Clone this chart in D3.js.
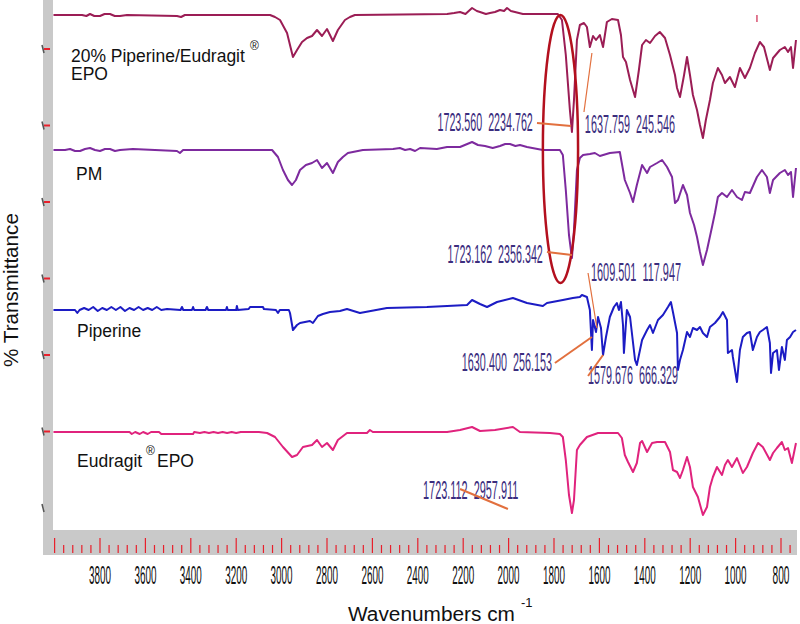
<!DOCTYPE html>
<html><head><meta charset="utf-8">
<script src="https://cdn.jsdelivr.net/npm/d3@7"></script>
<style>html,body{margin:0;padding:0;background:#fff;} svg{display:block;}</style>
</head><body><svg id="c" width="800" height="624"></svg>
<script>
// ---------- DATA ----------
const seriesNames = ["20% Piperine/Eudragit", "PM", "Piperine", "Eudragit"];
const seriesColors = ["#9b1d55", "#7d2a9e", "#1c1cc4", "#e0237d"];
// stacked offset of each trace (value of its flat baseline on the % T axis)
const baselineOffsets = [493, 358, 198, 76];

// [wavenumber cm-1, relative %T] (100 = flat baseline)
const sample20 = [[4005,100],[3879,100],[3860,99],[3844,101],[3825,99],[3800,99],[3780,101],[3756,101],[3735,99],[3712,99],[3681,100],[3461,99],[3443,98],[3426,100],[3051,100],[3029,98],[3007,95],[2976,82],[2950,58],[2932,65],[2910,73],[2888,77],[2866,79],[2844,85],[2822,79],[2800,86],[2774,74],[2752,85],[2721,95],[2699,98],[2677,100],[2271,101],[2240,102],[2214,103],[2190,101],[2161,107],[2140,104],[2126,103],[2100,101],[2082,102],[2060,103],[2038,105],[2020,104],[2007,107],[1990,104],[1972,103],[1937,101],[1783,101],[1765,95],[1748,60],[1730,5],[1721,-17],[1712,15],[1699,75],[1686,90],[1668,92],[1655,88],[1642,68],[1628,79],[1615,75],[1598,80],[1584,68],[1567,93],[1545,96],[1518,95],[1505,80],[1496,58],[1483,53],[1465,35],[1443,18],[1426,45],[1412,70],[1395,75],[1377,72],[1355,79],[1334,83],[1311,77],[1289,60],[1267,40],[1258,27],[1245,18],[1227,40],[1214,58],[1201,40],[1188,20],[1170,5],[1157,-10],[1144,-23],[1131,-5],[1113,15],[1100,32],[1078,47],[1060,40],[1047,32],[1025,38],[1003,28],[981,47],[959,37],[937,47],[915,62],[893,73],[875,68],[849,45],[835,57],[805,65],[783,68],[769,63],[756,68],[747,47],[734,75]];

const pm = [[4005,100],[3954,100],[3932,101],[3910,99],[3888,99],[3866,101],[3844,102],[3822,100],[3800,99],[3778,101],[3756,101],[3734,99],[3712,100],[3655,101],[3461,99],[3448,97],[3434,100],[3042,100],[3016,93],[2994,80],[2972,70],[2954,65],[2937,70],[2919,80],[2893,85],[2866,87],[2844,90],[2822,82],[2800,87],[2774,77],[2752,88],[2730,93],[2708,97],[2642,100],[2509,101],[2479,102],[2456,100],[2434,101],[2412,99],[2390,102],[2316,101],[2271,103],[2214,103],[2161,108],[2135,105],[2104,104],[2070,102],[2038,104],[2015,106],[1994,106],[1970,104],[1950,105],[1919,103],[1849,100],[1774,100],[1761,95],[1748,60],[1734,15],[1721,-8],[1712,20],[1699,80],[1686,92],[1672,95],[1642,96],[1620,97],[1598,94],[1554,97],[1510,98],[1488,70],[1465,57],[1452,48],[1435,65],[1412,85],[1390,77],[1377,83],[1346,87],[1324,90],[1302,83],[1280,73],[1267,47],[1254,50],[1232,65],[1214,55],[1201,37],[1183,25],[1170,13],[1157,-2],[1144,-15],[1126,0],[1104,23],[1091,37],[1078,53],[1060,57],[1038,53],[1016,60],[994,53],[972,50],[959,58],[937,57],[906,73],[884,80],[862,73],[849,57],[835,70],[805,77],[783,80],[769,75],[756,78],[747,53],[734,82]];

const piperine = [[4005,100],[3910,100],[3900,97],[3890,100],[3870,102],[3850,100],[3830,103],[3810,99],[3790,102],[3770,100],[3750,103],[3730,100],[3710,103],[3690,99],[3670,102],[3650,100],[3630,103],[3610,100],[3590,102],[3570,100],[3550,103],[3530,100],[3505,101],[3445,100],[3439,103],[3433,100],[3395,100],[3390,103],[3385,100],[3335,100],[3329,103],[3323,100],[3245,100],[3241,103],[3237,100],[3200,100],[3197,104],[3193,100],[3145,101],[3139,103],[3082,103],[3078,101],[3025,100],[3016,97],[3008,100],[2968,100],[2963,97],[2950,80],[2932,85],[2919,87],[2875,89],[2862,87],[2840,94],[2818,96],[2787,98],[2743,99],[2712,101],[2655,97],[2536,102],[2360,103],[2271,104],[2183,105],[2161,110],[2126,106],[2095,103],[2051,108],[1981,112],[1919,107],[1849,104],[1831,107],[1761,110],[1717,112],[1686,113],[1677,115],[1655,113],[1642,100],[1633,60],[1628,90],[1615,78],[1606,93],[1593,82],[1584,55],[1571,73],[1554,93],[1536,103],[1523,107],[1514,100],[1505,108],[1496,85],[1492,57],[1479,100],[1465,93],[1443,50],[1435,45],[1412,70],[1390,80],[1377,85],[1364,77],[1342,90],[1320,95],[1298,103],[1285,108],[1276,98],[1258,77],[1254,40],[1245,50],[1232,60],[1214,78],[1201,73],[1188,82],[1170,80],[1157,83],[1144,77],[1126,73],[1113,83],[1091,87],[1069,93],[1056,98],[1038,90],[1034,57],[1016,60],[1012,53],[994,28],[981,60],[968,73],[950,77],[937,78],[924,60],[906,73],[893,78],[880,80],[862,83],[849,67],[844,37],[835,57],[818,60],[809,40],[796,63],[783,50],[774,70],[760,73],[747,78],[734,80]];

const eudragit = [[4005,100],[3670,100],[3660,98],[3645,100],[3625,98],[3610,100],[3590,98],[3575,100],[3540,100],[3530,98],[3478,98],[3390,98],[3385,100],[3360,99],[3340,100],[3320,99],[3300,100],[3280,99],[3260,100],[3240,99],[3220,100],[3200,99],[3180,100],[3100,100],[3064,99],[3029,95],[2994,85],[2954,75],[2932,77],[2906,85],[2866,87],[2844,92],[2822,85],[2800,89],[2774,82],[2752,92],[2712,99],[2624,99],[2611,102],[2598,100],[2271,100],[2214,102],[2161,105],[2126,101],[2060,102],[1981,105],[1950,100],[1818,99],[1774,98],[1761,95],[1748,72],[1734,37],[1721,19],[1712,32],[1699,82],[1686,87],[1655,95],[1606,99],[1518,99],[1501,94],[1488,77],[1474,70],[1452,60],[1435,69],[1421,89],[1412,91],[1390,80],[1368,89],[1346,90],[1311,90],[1289,80],[1276,62],[1258,60],[1245,54],[1232,62],[1214,75],[1201,65],[1188,45],[1166,35],[1144,17],[1126,25],[1113,45],[1100,55],[1082,65],[1060,57],[1047,67],[1034,72],[1016,65],[994,74],[968,59],[950,65],[924,79],[901,89],[880,85],[849,72],[835,79],[818,84],[796,90],[783,82],[769,84],[752,69],[734,89]];

const xTickLabels = [3800,3600,3400,3200,3000,2800,2600,2400,2200,2000,1800,1600,1400,1200,1000,800];

// peak annotations: label baseline position, leader line start/end (wavenumber, stacked %T)
const annotations = [
  {text:"1723.560  2234.762", tx:1893, ty:377, anchor:"end",   from:[1875,385], to:[1725,382], w:2},
  {text:"1637.759  245.546",  tx:1664, ty:375, anchor:"start", from:[1668,396], to:[1633,455], w:1.2},
  {text:"1723.162  2356.342", tx:1849, ty:245, anchor:"end",   from:[1831,256], to:[1721,253], w:2},
  {text:"1609.501  117.947",  tx:1637, ty:227, anchor:"start", from:[1650,235], to:[1611,180], w:1.2},
  {text:"1630.400  256.153",  tx:1809, ty:137, anchor:"end",   from:[1796,145], to:[1633,171], w:2},
  {text:"1579.676  666.329",  tx:1650, ty:124, anchor:"start", from:[1650,132], to:[1584,153], w:2},
  {text:"1723.112  2957.911", tx:2377, ty:9,   anchor:"start", from:[2214,19],  to:[2003,-1],  w:2}
];
// highlighted carbonyl region (ellipse bounds)
const highlight = {left:1849, right:1694, top:493, bottom:225};

// ---------- CHART ----------
const svg = d3.select("#c");
const x = d3.scaleLinear().domain([3800, 800]).range([100, 781]);
const y = d3.scaleLinear().domain([0, 459]).range([508, 49]);
const plotL = 53, plotR = 797, bandTop = 530, bandBot = 555;
const lf = "Liberation Sans, Arial, sans-serif";

// condensed text: natural glyph height, squeezed horizontally to a target width
function condensed(px, py, txt, fs, width, anchor, color) {
  const t = svg.append("text").attr("x", 0).attr("y", 0)
    .attr("font-family", lf).attr("font-size", fs).attr("fill", color)
    .attr("xml:space", "preserve").style("white-space", "pre").text(txt);
  const nat = t.node().getComputedTextLength();
  const sx = width / nat;
  const x0 = anchor === "end" ? px - width : anchor === "middle" ? px - width / 2 : px;
  t.attr("transform", `translate(${x0},${py}) scale(${sx},1)`);
  return t;
}
// text fitted (uniformly) to a target width
function fitted(px, py, txt, fs, width) {
  const t = svg.append("text").attr("x", px).attr("y", py)
    .attr("font-family", lf).attr("font-size", fs).attr("fill", "#111").text(txt);
  const nat = t.node().getComputedTextLength();
  if (nat > 0) t.attr("font-size", fs * width / nat);
  return t;
}

svg.append("defs").append("clipPath").attr("id","clip")
  .append("rect").attr("x", plotL).attr("y", 0).attr("width", plotR - plotL).attr("height", bandTop);

// gray frame bars
svg.append("rect").attr("x", 43).attr("y", 0).attr("width", plotL - 43).attr("height", bandBot).attr("fill", "#c9c9c9");
svg.append("rect").attr("x", 43).attr("y", bandTop).attr("width", plotR - 43).attr("height", bandBot - bandTop).attr("fill", "#c9c9c9");

// left ticks
const yTicks = d3.range(0, 460, 76.5);
yTicks.forEach((t, i) => {
  const yy = y(t);
  svg.append("line").attr("x1", 42).attr("x2", 44).attr("y1", yy - 4).attr("y2", yy + 4)
    .attr("stroke", "#555").attr("stroke-width", 1.5);
  if (i > 0) svg.append("line").attr("x1", 44).attr("x2", 50).attr("y1", yy).attr("y2", yy)
    .attr("stroke", "#e8202c").attr("stroke-width", 2);
});

// bottom ticks (major 200, minor 40)
d3.range(4000, 735, -40).forEach(w => {
  const major = (w % 200 === 0);
  svg.append("line").attr("x1", x(w)).attr("x2", x(w))
    .attr("y1", major ? 538 : 545).attr("y2", 553)
    .attr("stroke", "#e8202c").attr("stroke-width", 1.2);
});
xTickLabels.forEach(w => {
  const s = String(w);
  condensed(x(w), 584, s, 25, s.length === 4 ? 22 : 17, "middle", "#111");
});

// axis titles
fitted(348, 621, "Wavenumbers cm", 21, 167);
svg.append("text").attr("x", 521).attr("y", 607).attr("font-family", lf)
  .attr("font-size", 13).attr("fill", "#111").text("-1");
const yt = svg.append("text").attr("font-family", lf).attr("font-size", 20.5).attr("fill", "#111")
  .attr("text-anchor", "middle").text("% Transmittance");
const ytNat = yt.node().getComputedTextLength();
if (ytNat > 0) yt.attr("font-size", 20.5 * 154 / ytNat);
yt.attr("transform", "translate(18,290) rotate(-90)");

// spectra
const g = svg.append("g").attr("clip-path", "url(#clip)");
const allSeries = [sample20, pm, piperine, eudragit];
allSeries.forEach((data, i) => {
  const line = d3.line().x(d => x(d[0])).y(d => y(baselineOffsets[i] + d[1] - 100));
  g.append("path").attr("d", line(data)).attr("fill", "none")
    .attr("stroke", seriesColors[i]).attr("stroke-width", 2).attr("stroke-linejoin", "round");
});

// small marker on top trace
g.append("line").attr("x1", x(906)).attr("x2", x(906)).attr("y1", y(493)).attr("y2", y(486))
  .attr("stroke", "#d85070").attr("stroke-width", 1.5);

// series labels
function lab(xp, yp, txt, fs) {
  return svg.append("text").attr("x", xp).attr("y", yp).attr("font-family", lf)
    .attr("font-size", fs).attr("fill", "#111").text(txt);
}
fitted(71, 62, seriesNames[0], 17.5, 174);
lab(250, 50, "®", 12);
lab(71, 80, "EPO", 17.5);
lab(76, 180, seriesNames[1], 17.5);
lab(77, 337, seriesNames[2], 17.5);
lab(77, 467, seriesNames[3], 17.5);
lab(146, 455, "®", 12);
lab(157, 467, "EPO", 17.5);

// ellipse highlight
const ecx = (x(highlight.left) + x(highlight.right)) / 2;
const ecy = (y(highlight.top) + y(highlight.bottom)) / 2;
svg.append("ellipse").attr("cx", ecx).attr("cy", ecy)
  .attr("rx", Math.abs(x(highlight.right) - x(highlight.left)) / 2)
  .attr("ry", Math.abs(y(highlight.bottom) - y(highlight.top)) / 2)
  .attr("fill", "none").attr("stroke", "#b3101e").attr("stroke-width", 2.5);

// annotations
annotations.forEach(a => {
  condensed(x(a.tx), y(a.ty), a.text, 25, 5.3 * a.text.length, a.anchor, "#3b2d7e");
});
annotations.forEach(a => {
  svg.append("line").attr("x1", x(a.from[0])).attr("y1", y(a.from[1]))
    .attr("x2", x(a.to[0])).attr("y2", y(a.to[1]))
    .attr("stroke", "#e2703e").attr("stroke-width", a.w);
});
</script></body></html>
